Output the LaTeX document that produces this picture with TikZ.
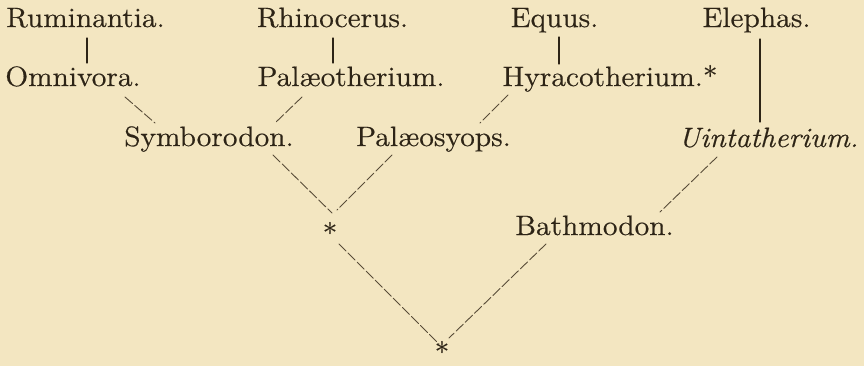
\documentclass[tikz,border=0pt]{standalone}
\usepackage{fontspec}
\setmainfont{Latin Modern Roman}[FakeStretch=1.07,FakeBold=0.5]
\usepackage{tikz}
\usetikzlibrary{calc}
\usepackage{xcolor}
\definecolor{paper}{RGB}{243,230,193}
\definecolor{ink}{RGB}{45,36,22}
\definecolor{pencil}{RGB}{88,76,56}

\begin{document}
\begin{tikzpicture}[x=0.5pt,y=-0.5pt,line cap=round,
  taxon/.style={anchor=base,inner sep=0pt,text=ink,font=\fontsize{14}{16}\selectfont},
  stem/.style={draw=ink,line width=0.6pt},
  link/.style={draw=pencil,line width=0.45pt,dash pattern=on 5pt off 1.4pt}]
\fill[paper] (0,0) rectangle (864,366);
\useasboundingbox (0,0) rectangle (864,366);
% top row
\node[taxon] (rum) at (85.5,27) {Ruminantia.};
\node[taxon] (rhi) at (332.5,27) {Rhinocerus.};
\node[taxon] (equ) at (554.5,27) {Equus.};
\node[taxon] (ele) at (756.5,27) {Elephas.};
% second row
\node[taxon] (omn) at (73,86) {Omnivora.};
\node[taxon] (pal) at (351,86) {Palæotherium.};
\node[taxon] (hyr) at (610,86) {Hyracotherium.*};
% third row
\node[taxon] (sym) at (209,146) {Symborodon.};
\node[taxon] (psy) at (433.5,146) {Palæosyops.};
\node[taxon,font=\fontsize{14}{16}\selectfont\itshape] (uin) at (768.5,147) {Uintatherium.};
\node[taxon] (bat) at (594.5,235) {Bathmodon.};
\node[taxon] (sa) at (330,243) {*};
\node[taxon] (sb) at (442,362) {*};
% solid stems
\draw[stem] ($(rum.base)+(1.5,11)$) -- ($(omn.base)+(14,-23)$);
\draw[stem] ($(rhi.base)+(0.5,11)$) -- ($(pal.base)+(-18,-23)$);
\draw[stem] ($(equ.base)+(4.5,10)$) -- ($(hyr.base)+(-51,-22)$);
\draw[stem] ($(ele.base)+(3.5,12)$) -- ($(uin.base)+(-8.5,-25)$);
% broken links
\draw[link] ($(omn.base)+(52,11)$) -- ($(sym.base)+(-54,-23)$);
\draw[link] ($(pal.base)+(-49,11)$) -- ($(sym.base)+(66,-23)$);
\draw[link] ($(hyr.base)+(-102,9)$) -- ($(psy.base)+(46.5,-23)$);
\draw[link] ($(sym.base)+(64,9)$) -- ($(sa.base)+(2,-30)$);
\draw[link] ($(psy.base)+(-41.5,9)$) -- ($(sa.base)+(7,-33)$);
\draw[link] ($(uin.base)+(-51.5,10)$) -- ($(bat.base)+(65.5,-23)$);
\draw[link] ($(sa.base)+(9,1)$) -- ($(sb.base)+(-3,-18)$);
\draw[link] ($(bat.base)+(-48.5,9)$) -- ($(sb.base)+(7,-24)$);
\end{tikzpicture}
\end{document}
